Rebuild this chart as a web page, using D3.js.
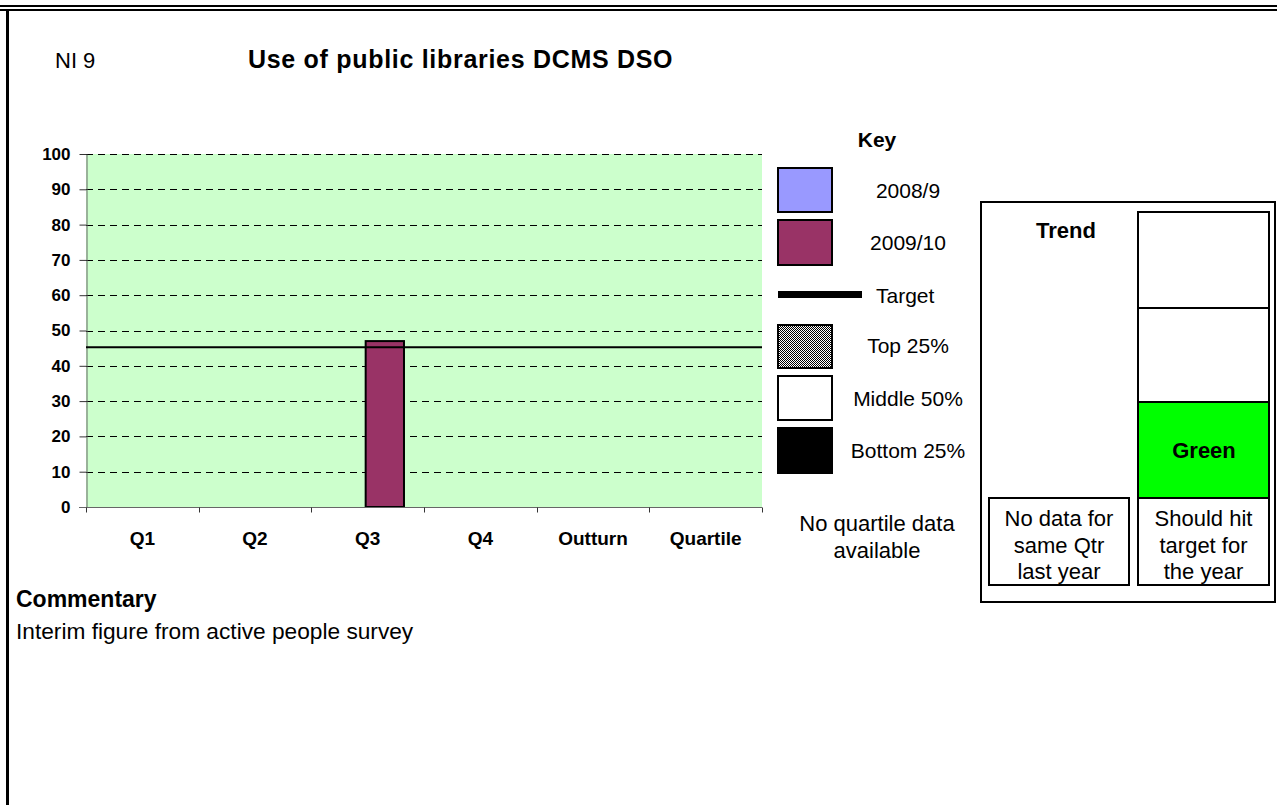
<!DOCTYPE html>
<html>
<head>
<meta charset="utf-8">
<script src="https://cdn.jsdelivr.net/npm/d3@7"></script>
<style>
  body { margin: 0; background: #fff; }
  svg { display: block; font-family: "Liberation Sans", Arial, sans-serif; }
</style>
</head>
<body>
<svg id="chart" width="1277" height="805"></svg>
<script>
// ---------- data ----------
const categories = ["Q1", "Q2", "Q3", "Q4", "Outturn", "Quartile"];
const seriesNames = ["2008/9", "2009/10"];
const values2008 = [null, null, null, null, null, null];
const values2009 = [null, null, 47, null, null, null];
const targetValue = 45;
const yTickValues = [0, 10, 20, 30, 40, 50, 60, 70, 80, 90, 100];
const seriesColors = ["#9999FF", "#993366"];

const indicatorCode = "NI 9";
const chartTitle = "Use of public libraries DCMS DSO";
const keyTitle = "Key";
const quartileLabels = ["Top 25%", "Middle 50%", "Bottom 25%"];
const quartileNote = ["No quartile data", "available"];
const trendTitle = "Trend";
const trendNote = ["No data for", "same Qtr", "last year"];
const ragLabel = "Green";
const ragNote = ["Should hit", "target for", "the year"];
const commentaryTitle = "Commentary";
const commentaryText = "Interim figure from active people survey";

// ---------- setup ----------
const svg = d3.select("#chart");
const FONT = '"Liberation Sans", Arial, sans-serif';

const defs = svg.append("defs");
const pat = defs.append("pattern").attr("id", "dots")
  .attr("width", 2).attr("height", 2).attr("patternUnits", "userSpaceOnUse");
pat.append("rect").attr("width", 2).attr("height", 2).attr("fill", "#fff");
pat.append("rect").attr("x", 0).attr("y", 0).attr("width", 1).attr("height", 1).attr("fill", "#000");
pat.append("rect").attr("x", 1).attr("y", 1).attr("width", 1).attr("height", 1).attr("fill", "#000");

// page frame
svg.append("line").attr("x1", 0).attr("x2", 1277).attr("y1", 6).attr("y2", 6).attr("stroke", "#000").attr("stroke-width", 2);
svg.append("line").attr("x1", 0).attr("x2", 1277).attr("y1", 10).attr("y2", 10).attr("stroke", "#000").attr("stroke-width", 2);
svg.append("line").attr("x1", 7.5).attr("x2", 7.5).attr("y1", 10).attr("y2", 805).attr("stroke", "#000").attr("stroke-width", 3);

// header
svg.append("text").attr("x", 55).attr("y", 68).attr("font-size", 22).text(indicatorCode);
svg.append("text").attr("x", 248).attr("y", 68).attr("font-size", 25).attr("font-weight", "bold")
  .attr("letter-spacing", 0.7).text(chartTitle);

// ---------- chart ----------
const plot = { left: 86, right: 762, top: 154, bottom: 507 };
const x0 = d3.scaleBand().domain(categories).range([plot.left, plot.right]).paddingInner(0).paddingOuter(0);
const x1 = d3.scaleBand().domain(seriesNames).range([-2, x0.bandwidth() - 2]).paddingInner(0).paddingOuter(0.47);
const y = d3.scaleLinear().domain([0, 100]).range([plot.bottom, plot.top]);

svg.append("rect").attr("x", plot.left).attr("y", plot.top)
  .attr("width", plot.right - plot.left).attr("height", plot.bottom - plot.top).attr("fill", "#CCFFCC");

// gridlines
svg.append("g").selectAll("line").data(yTickValues.filter(d => d > 0)).join("line")
  .attr("x1", plot.left).attr("x2", plot.right)
  .attr("y1", d => Math.round(y(d)) + 0.5).attr("y2", d => Math.round(y(d)) + 0.5)
  .attr("stroke", "#000").attr("stroke-width", 1).attr("stroke-dasharray", "7,5");

// y axis
const yAxis = svg.append("g").attr("transform", `translate(${plot.left + 0.5},0)`)
  .call(d3.axisLeft(y).tickValues(yTickValues).tickSize(7).tickPadding(9).tickSizeOuter(0));
yAxis.select(".domain").attr("stroke", "#666");
yAxis.selectAll(".tick line").attr("stroke", "#333");
yAxis.selectAll(".tick text").attr("font-size", 17).attr("font-weight", "bold")
  .attr("font-family", FONT).attr("fill", "#000");

// bars
const seriesData = [values2008, values2009];
const barGroups = svg.append("g").selectAll("g").data(seriesNames).join("g");
barGroups.each(function (s, si) {
  d3.select(this).selectAll("rect")
    .data(categories.map((c, i) => ({ c, v: seriesData[si][i] })).filter(d => d.v != null))
    .join("rect")
    .attr("x", d => x0(d.c) + x1(s))
    .attr("y", d => y(d.v))
    .attr("width", x1.bandwidth())
    .attr("height", d => y(0) - y(d.v))
    .attr("fill", seriesColors[si])
    .attr("stroke", "#000").attr("stroke-width", 2);
});

// target line
svg.append("line").attr("x1", plot.left).attr("x2", plot.right)
  .attr("y1", y(targetValue) - 1).attr("y2", y(targetValue) - 1)
  .attr("stroke", "#000").attr("stroke-width", 2);

// x axis
const xAxis = svg.append("g").attr("transform", `translate(0,${plot.bottom + 0.5})`)
  .call(d3.axisBottom(x0).tickSize(0).tickPadding(24).tickSizeOuter(0));
xAxis.select(".domain").attr("stroke", "#666").attr("d", `M${plot.left - 7},0H${plot.right}`);
xAxis.selectAll(".tick text").attr("font-size", 19).attr("font-weight", "bold")
  .attr("font-family", FONT).attr("fill", "#000");
// boundary ticks
const boundaries = categories.map(c => x0(c)).concat([plot.right]);
xAxis.selectAll("line.bt").data(boundaries).join("line").attr("class", "bt")
  .attr("x1", d => Math.round(d) + 0.5).attr("x2", d => Math.round(d) + 0.5)
  .attr("y1", 0).attr("y2", 5).attr("stroke", "#333");

// ---------- key ----------
svg.append("text").attr("x", 877).attr("y", 147).attr("text-anchor", "middle")
  .attr("font-size", 21).attr("font-weight", "bold").text(keyTitle);

const keyItems = [
  { label: seriesNames[0], fill: seriesColors[0], y0: 168, y1: 212, ty: 198 },
  { label: seriesNames[1], fill: seriesColors[1], y0: 220, y1: 265, ty: 250 },
  { label: quartileLabels[0], fill: "url(#dots)", y0: 325, y1: 368, ty: 353 },
  { label: quartileLabels[1], fill: "#fff", y0: 376, y1: 420, ty: 406 },
  { label: quartileLabels[2], fill: "#000", y0: 428, y1: 473, ty: 458 }
];
const key = svg.append("g");
key.selectAll("rect").data(keyItems).join("rect")
  .attr("x", 778).attr("y", d => d.y0).attr("width", 54).attr("height", d => d.y1 - d.y0)
  .attr("fill", d => d.fill).attr("stroke", "#000").attr("stroke-width", 2);
key.selectAll("text").data(keyItems).join("text")
  .attr("x", 908).attr("y", d => d.ty).attr("text-anchor", "middle").attr("font-size", 21)
  .text(d => d.label);
// target legend
svg.append("rect").attr("x", 778).attr("y", 291).attr("width", 84).attr("height", 7).attr("fill", "#000");
svg.append("text").attr("x", 876).attr("y", 303).attr("font-size", 21).text("Target");
// quartile note
svg.append("g").selectAll("text").data(quartileNote).join("text")
  .attr("x", 877).attr("y", (d, i) => 531 + i * 27).attr("text-anchor", "middle").attr("font-size", 22)
  .text(d => d);

// ---------- trend panel ----------
const tp = svg.append("g");
tp.append("rect").attr("x", 981).attr("y", 202).attr("width", 294).attr("height", 400)
  .attr("fill", "#fff").attr("stroke", "#000").attr("stroke-width", 2);
tp.append("text").attr("x", 1066).attr("y", 238).attr("text-anchor", "middle")
  .attr("font-size", 22).attr("font-weight", "bold").text(trendTitle);

const ragSegments = [
  { y0: 212, y1: 308, fill: "#fff", label: "" },
  { y0: 308, y1: 402, fill: "#fff", label: "" },
  { y0: 402, y1: 498, fill: "#00FF00", label: ragLabel }
];
tp.selectAll("rect.seg").data(ragSegments).join("rect").attr("class", "seg")
  .attr("x", 1138).attr("y", d => d.y0).attr("width", 131).attr("height", d => d.y1 - d.y0)
  .attr("fill", d => d.fill).attr("stroke", "#000").attr("stroke-width", 2);
tp.selectAll("text.seg").data(ragSegments.filter(d => d.label)).join("text").attr("class", "seg")
  .attr("x", 1204).attr("y", d => (d.y0 + d.y1) / 2 + 8).attr("text-anchor", "middle")
  .attr("font-size", 22).attr("font-weight", "bold").text(d => d.label);

const noteBoxes = [
  { x: 989, w: 140, lines: trendNote },
  { x: 1138, w: 131, lines: ragNote }
];
noteBoxes.forEach(b => {
  tp.append("rect").attr("x", b.x).attr("y", 498).attr("width", b.w).attr("height", 87)
    .attr("fill", "#fff").attr("stroke", "#000").attr("stroke-width", 2);
  tp.append("g").selectAll("text").data(b.lines).join("text")
    .attr("x", b.x + b.w / 2).attr("y", (d, i) => 526 + i * 26.5).attr("text-anchor", "middle")
    .attr("font-size", 22).text(d => d);
});

// ---------- commentary ----------
svg.append("text").attr("x", 16).attr("y", 607).attr("font-size", 23).attr("font-weight", "bold").text(commentaryTitle);
svg.append("text").attr("x", 16).attr("y", 639).attr("font-size", 22.7).text(commentaryText);
</script>
</body>
</html>
